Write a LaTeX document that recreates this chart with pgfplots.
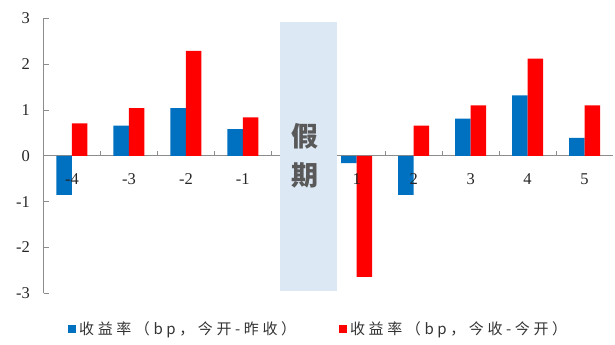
\documentclass[border=0pt]{standalone}
\usepackage{pgfplots}
\pgfplotsset{compat=1.18}
\usepackage{fontspec}
\setmainfont{Liberation Serif}
\newfontfamily\cjk[LetterSpace=24]{Noto Sans CJK SC}
\newfontfamily\cjkb{Noto Sans CJK SC}
\definecolor{bblue}{HTML}{0070C0}
\definecolor{rred}{HTML}{FF0000}
\definecolor{hol}{HTML}{DDE8F5}
\definecolor{axgray}{HTML}{8C8C8C}
\pgfplotsset{
  layers/mylayers/.define layer set={axis background,axis grid,axis ticks,axis lines,main,axis tick labels,axis descriptions,axis foreground}{
    grid style={/pgfplots/on layer=axis grid},
    tick style={/pgfplots/on layer=axis ticks},
    axis line style={/pgfplots/on layer=axis lines},
    label style={/pgfplots/on layer=axis descriptions},
    legend style={/pgfplots/on layer=axis descriptions},
    ticklabel style={/pgfplots/on layer=axis tick labels},
  },
}
\begin{document}
\begin{tikzpicture}
\begin{axis}[
  set layers=mylayers,
  scale only axis, width=569.5bp, height=275bp,
  xmin=-0.5, xmax=9.5, ymin=-3, ymax=3,
  axis y line*=left, axis x line*=middle,
  axis line style={axgray, line width=0.8bp},
  ybar=0pt, bar width=15.5bp,
  xtick={0,1,2,3,5,6,7,8,9},
  xticklabels={-4,-3,-2,-1,1,2,3,4,5},
  minor xtick={0.5,1.5,2.5,3.5,4.5,5.5,6.5,7.5,8.5},
  major x tick style={draw=none},
  minor x tick style={axgray, line width=0.8bp},
  minor tick length=5bp,
  xtick align=inside, ytick align=inside,
  ytick={-3,-2,-1,0,1,2,3}, yticklabels={-3,-2,-1,0,1,2,3},
  major tick length=5bp,
  y tick style={axgray, line width=0.8bp},
  tick label style={font=\fontsize{16.5bp}{16.5bp}\selectfont, text=black!85},
  xticklabel style={yshift=-14bp},
  yticklabel style={xshift=-10bp},
  legend columns=2,
  legend style={draw=none, fill=none, inner sep=0pt, at={(0.043,-0.128)}, anchor=west,
    font=\cjk\fontsize{15bp}{15bp}\selectfont, text=black!80,
    nodes={inner xsep=3bp},
    /tikz/every even column/.append style={column sep=40bp}},
  legend cell align=left,
]
\addplot[fill=bblue, draw=none, legend image code/.code={\fill[bblue] (0bp,-4bp) rectangle (8bp,4bp);}]
  coordinates {(0,-0.85) (1,0.66) (2,1.04) (3,0.58) (5,-0.16) (6,-0.85) (7,0.81) (8,1.32) (9,0.39)};
\addplot[fill=rred, draw=none, legend image code/.code={\fill[rred] (0bp,-4bp) rectangle (8bp,4bp);}]
  coordinates {(0,0.71) (1,1.04) (2,2.29) (3,0.84) (5,-2.64) (6,0.66) (7,1.10) (8,2.12) (9,1.10)};
\legend{收益率（bp，今开-昨收）, 收益率（bp，今收-今开）}
\begin{pgfonlayer}{axis foreground}
\fill[hol] (axis cs:3.65,2.93) rectangle (axis cs:4.65,-2.96);
\node[align=center, font=\cjkb\bfseries\fontsize{27bp}{39bp}\selectfont, text=black!65] at (axis cs:4.1,0.0) {假\\期};
\end{pgfonlayer}
\end{axis}
\pgfresetboundingbox
\path[use as bounding box] (-43.5bp,-51.7bp) rectangle (571.5bp,293.3bp);
\end{tikzpicture}
\end{document}
